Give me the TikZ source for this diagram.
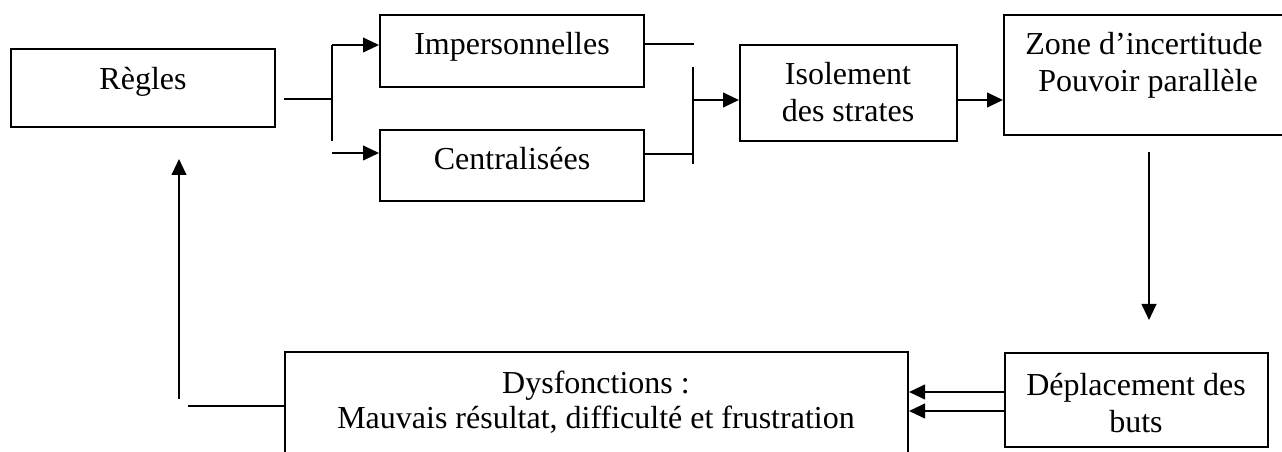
\documentclass[tikz,border=0pt]{standalone}
\usepackage{fontspec}
\setmainfont{Liberation Serif}
\usetikzlibrary{arrows.meta,fit}
\begin{document}
\begin{tikzpicture}[x=0.75pt,y=-0.75pt,
  line width=1.5pt,
  box/.style={draw, line width=1.5pt, inner sep=0pt, rectangle},
  txt/.style={inner sep=0pt, anchor=base, font=\fontsize{24}{28}\selectfont},
  arr/.style={-{Triangle[length=12pt,width=11pt]}}]
\useasboundingbox (0,0) rectangle (1282,452);
% boxes
\node[box, fit={(11,49) (275,127)}] (regles) {};
\node[box, fit={(380,15) (644,87)}] (imp) {};
\node[box, fit={(380,130) (644,201)}] (cen) {};
\node[box, fit={(740,45) (957,141)}] (iso) {};
\node[box, fit={(1004,15) (1292,135)}] (zone) {};
\node[box, fit={(1005,353) (1268,447)}] (dep) {};
\node[box, fit={(285,352) (908,475)}] (dys) {};
% texts
\node[txt] (t1) at (143,90) {Règles};
\node[txt] (t2) at (512,55) {Impersonnelles};
\node[txt] (t3) at (512,170) {Centralisées};
\node[txt] (t4a) at (848,85) {Isolement};
\node[txt] (t4b) at (848,122) {des strates};
\node[txt] (t5a) at (1144,55) {Zone d’incertitude};
\node[txt] (t5b) at (1148,92) {Pouvoir parallèle};
\node[txt] (t6a) at (1136,395) {Déplacement des};
\node[txt] (t6b) at (1136,432) {buts};
\node[txt] (t7a) at (596,393) {Dysfonctions :};
\node[txt] (t7b) at (596,428) {Mauvais résultat, difficulté et frustration};
% coordinates
\coordinate (r1) at (284,99);
\coordinate (j1) at (332,99);
\coordinate (sa) at (332,45);
\coordinate (sb) at (332,141);
\coordinate (sc) at (332,153);
\coordinate (ie) at (694,44);
\coordinate (ja) at (693,67);
\coordinate (jb) at (693,164);
\coordinate (jc) at (693,154);
\coordinate (jd) at (693,100);
\coordinate (za) at (1149,152);
\coordinate (zb) at (1149,320);
\coordinate (d1) at (1005,392);
\coordinate (d2) at (1005,411);
\coordinate (la) at (188,406);
\coordinate (ua) at (179,399);
\coordinate (ub) at (179,159);
% connectors
\draw (r1) -- (j1);
\draw (sa) -- (sb);
\draw[arr] (sa) -- (imp.west |- sa);
\draw[arr] (sc) -- (cen.west |- sc);
\draw (imp.east |- ie) -- (ie);
\draw (ja) -- (jb);
\draw (cen.east |- jc) -- (jc);
\draw[arr] (jd) -- (iso.west |- jd);
\draw[arr] (iso.east |- jd) -- (zone.west |- jd);
\draw[arr] (za) -- (zb);
\draw[arr] (dep.west |- d1) -- (dys.east |- d1);
\draw[arr] (dep.west |- d2) -- (dys.east |- d2);
\draw (la) -- (dys.west |- la);
\draw[arr] (ua) -- (ub);
\end{tikzpicture}
\end{document}
